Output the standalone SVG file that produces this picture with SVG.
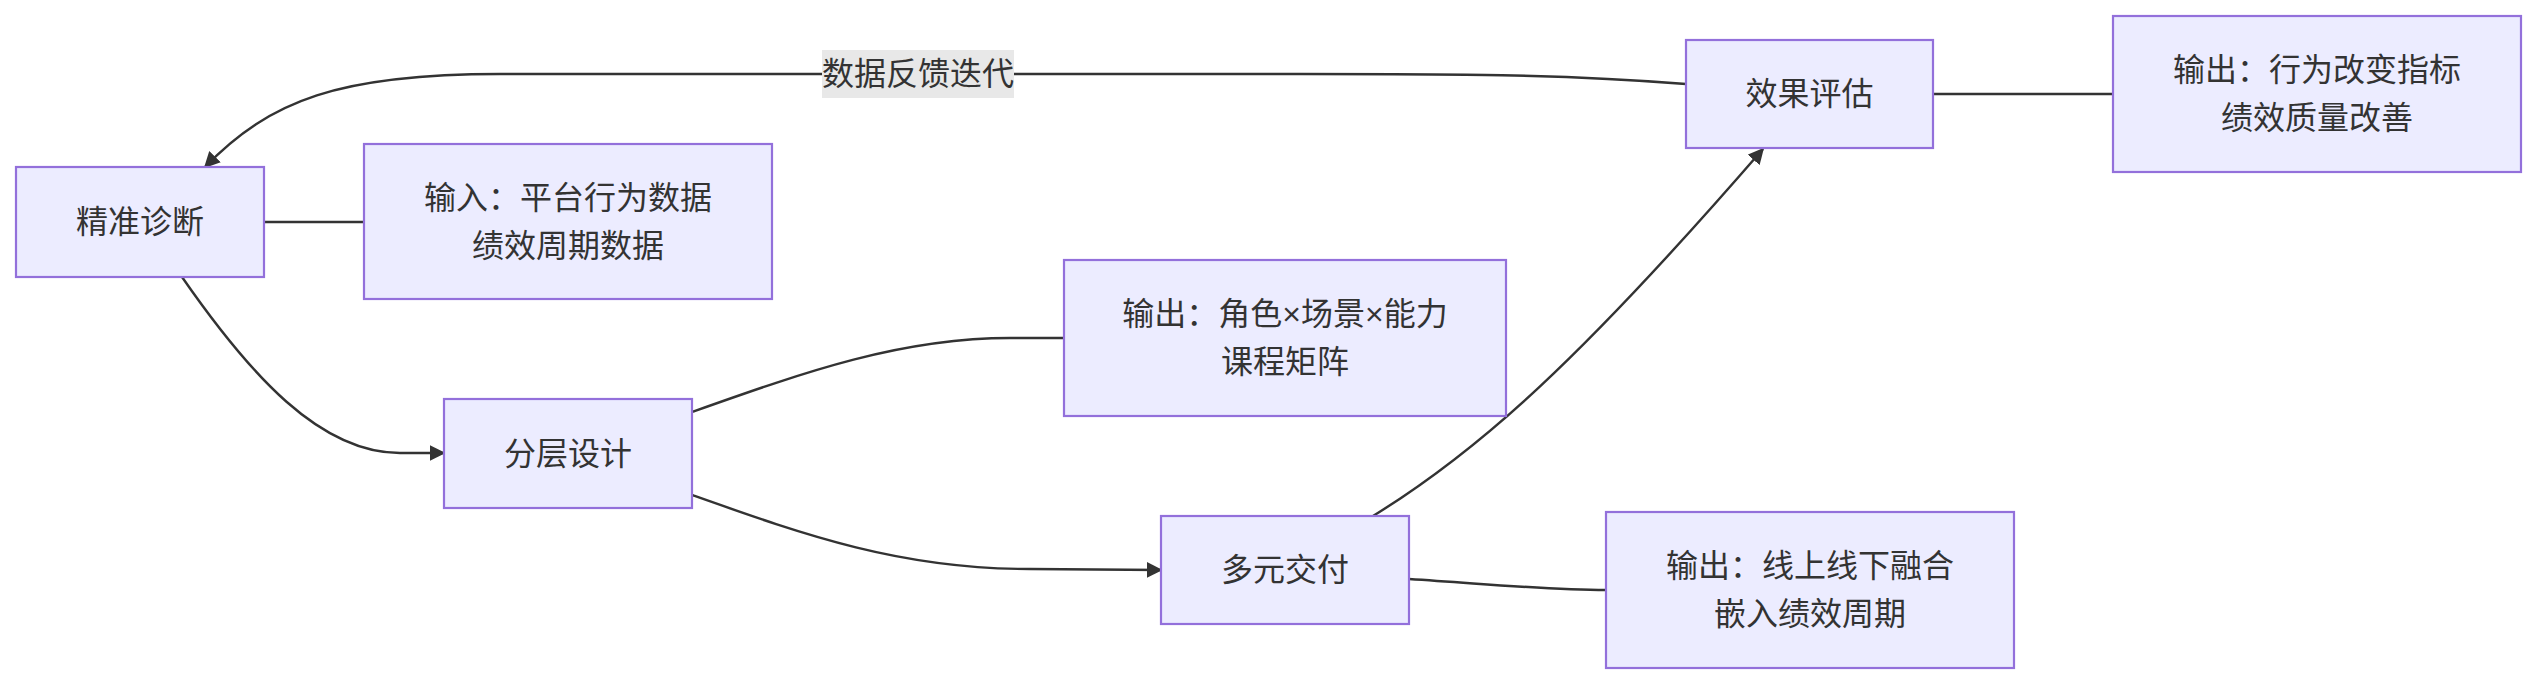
<svg xmlns="http://www.w3.org/2000/svg" width="2537" height="684" viewBox="0 0 2537 684">
<style>
.node rect{fill:#ECECFF;stroke:#9370DB;stroke-width:2.2}
text{font-family:"Liberation Sans","Noto Sans CJK SC",sans-serif;font-size:32px;fill:#333;text-anchor:middle;dominant-baseline:central}
.edge{fill:none;stroke:#333;stroke-width:2.4}
</style>
<defs>
<marker id="arr" viewBox="0 0 10 10" refX="9" refY="5" markerUnits="userSpaceOnUse" markerWidth="16" markerHeight="16" orient="auto">
<path d="M0,0 L10,5 L0,10 z" fill="#333"/>
</marker>
</defs>
<rect width="2537" height="684" fill="#fff"/>
<g id="connectors">
<path class="edge" d="M264,222 L364,222"/>
<path class="edge" d="M182,277 C250,375 320,453 400,453 L444,453" marker-end="url(#arr)"/>
<path class="edge" d="M692,412 C805,372 900,338 1010,338 L1064,338"/>
<path class="edge" d="M692,495 C805,535 900,569 1030,569 L1161,570" marker-end="url(#arr)"/>
<path class="edge" d="M1373,516 C1480,450 1580,360 1763,149" marker-end="url(#arr)"/>
<path class="edge" d="M1409,579 C1500,585 1550,590 1606,590"/>
<path class="edge" d="M1933,94 L2113,94"/>
<path class="edge" d="M1686,84 C1560,74 1450,74 1300,74 L500,74 C340,74 270,100 205,167" marker-end="url(#arr)"/>
<g id="edge-label">
<rect x="822" y="50" width="192" height="48" fill="#e8e8e8"/>
<text x="918" y="74">数据反馈迭代</text>
</g>
</g>
<g id="n-diag" class="node"><rect x="16" y="167" width="248" height="110"/><text x="140" y="222">精准诊断</text></g>
<g id="n-input" class="node"><rect x="364" y="144" width="408" height="155"/><text x="568" y="198">输入：平台行为数据</text><text x="568" y="246">绩效周期数据</text></g>
<g id="n-design" class="node"><rect x="444" y="399" width="248" height="109"/><text x="568" y="454">分层设计</text></g>
<g id="n-matrix" class="node"><rect x="1064" y="260" width="442" height="156"/><text x="1285" y="314">输出：角色×场景×能力</text><text x="1285" y="362">课程矩阵</text></g>
<g id="n-deliver" class="node"><rect x="1161" y="516" width="248" height="108"/><text x="1285" y="570">多元交付</text></g>
<g id="n-blend" class="node"><rect x="1606" y="512" width="408" height="156"/><text x="1810" y="566">输出：线上线下融合</text><text x="1810" y="614">嵌入绩效周期</text></g>
<g id="n-eval" class="node"><rect x="1686" y="40" width="247" height="108"/><text x="1809.5" y="94">效果评估</text></g>
<g id="n-result" class="node"><rect x="2113" y="16" width="408" height="156"/><text x="2317" y="70">输出：行为改变指标</text><text x="2317" y="118">绩效质量改善</text></g>
</svg>
